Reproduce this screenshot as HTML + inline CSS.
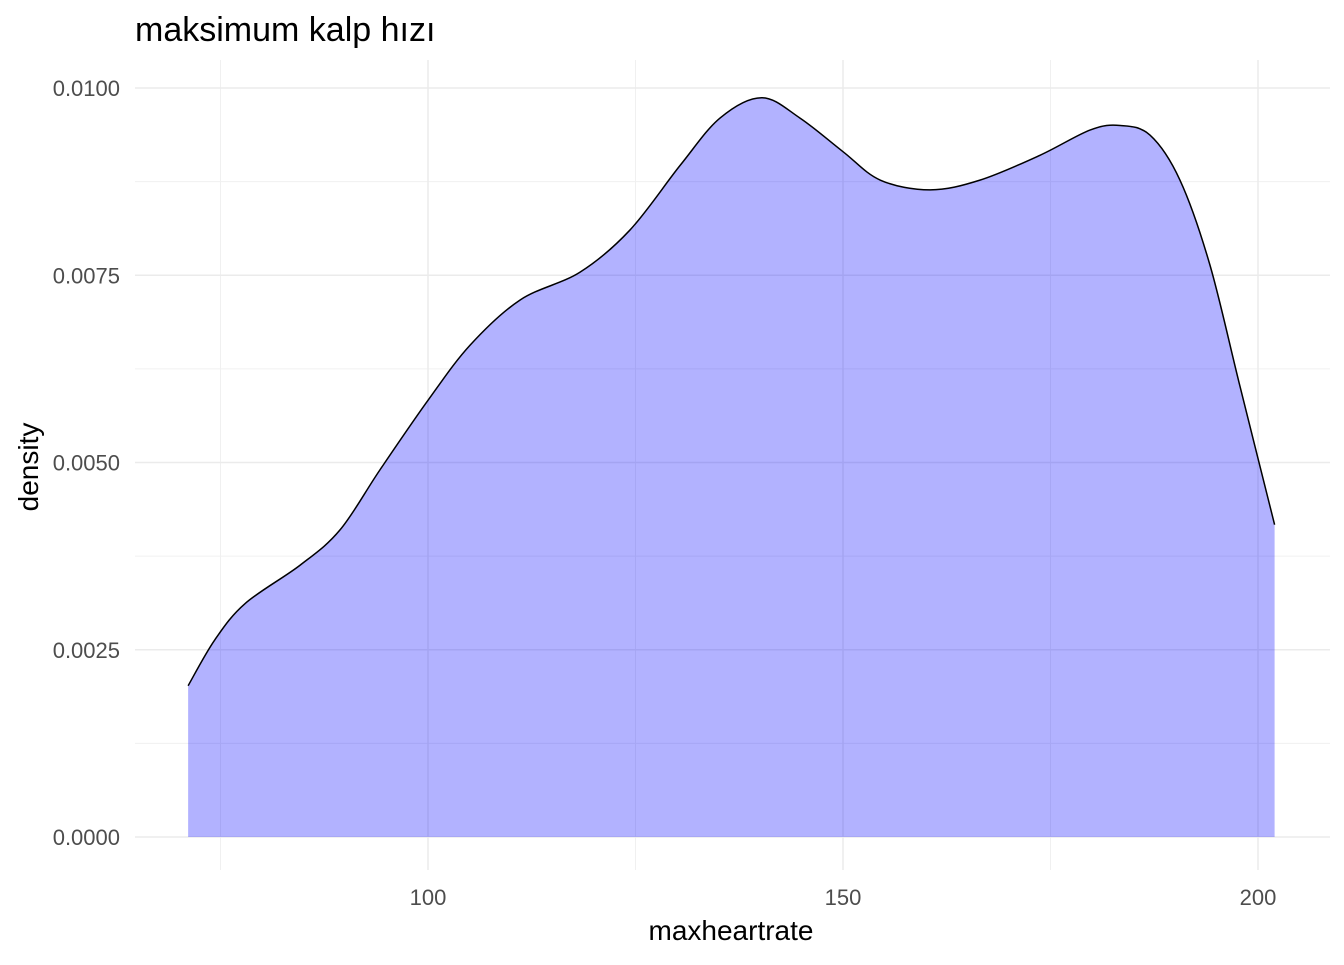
<!DOCTYPE html>
<html><head><meta charset="utf-8"><style>
body{margin:0;background:#fff;font-family:"Liberation Sans",sans-serif}
</style></head><body>
<svg id="chart" width="1344" height="960" xmlns="http://www.w3.org/2000/svg">
<text x="135" y="41" font-size="34" fill="#000" font-family="Liberation Sans, sans-serif">maksimum kalp hızı</text>
<g id="grid"></g>
<g id="marks"></g>
<g id="axes"></g>
<text x="731" y="940" font-size="28" text-anchor="middle" font-family="Liberation Sans, sans-serif">maxheartrate</text>
<text transform="translate(38,467) rotate(-90)" font-size="28" text-anchor="middle" font-family="Liberation Sans, sans-serif">density</text>
</svg>
<script>
const xValues=[71.1,74.3,78,84.6,89.4,94.2,100,105.1,111.1,118.3,124.3,130.4,135.2,140.2,144.8,150,154.5,160.5,166.5,173.7,179.8,183.4,187,190.6,194.2,197.8,202];
const densityValues=[0.00202,0.00263,0.00312,0.00363,0.0041,0.0049,0.00583,0.00657,0.00717,0.00754,0.0081,0.00897,0.0096,0.00987,0.0096,0.00915,0.00877,0.00864,0.00877,0.0091,0.00944,0.0095,0.00937,0.00877,0.00764,0.00603,0.00417];
const xTicks=[100,150,200];
const xMinor=[75,125,175];
const yTicks=[0,0.0025,0.005,0.0075,0.01];
const yTickLabels=["0.0000","0.0025","0.0050","0.0075","0.0100"];
const yMinor=[0.00125,0.00375,0.00625,0.00875];
const NS="http://www.w3.org/2000/svg";
const X=v=>428+(v-100)*8.3;
const Y=v=>837-v*74900;
const L=135,R=1330,T=60,B=870;
function mk(tag,attrs,parent){const e=document.createElementNS(NS,tag);for(const k in attrs)e.setAttribute(k,attrs[k]);document.getElementById(parent).appendChild(e);return e;}
xMinor.forEach(v=>{const e=mk('line',{x1:X(v),x2:X(v),y1:T,y2:B,stroke:'#f0f0f0','stroke-width':1},'grid');

});
yMinor.forEach(v=>{const e=mk('line',{x1:L,x2:R,y1:Y(v),y2:Y(v),stroke:'#f0f0f0','stroke-width':1},'grid');

});
xTicks.forEach(v=>{const e=mk('line',{x1:X(v),x2:X(v),y1:T,y2:B,stroke:'#ebebeb','stroke-width':1.5},'grid');


const t=mk('text',{x:X(v),y:905,'font-size':22,fill:'#4d4d4d','text-anchor':'middle'},'axes');t.textContent=v;

});
yTicks.forEach((v,i)=>{const e=mk('line',{x1:L,x2:R,y1:Y(v),y2:Y(v),stroke:'#ebebeb','stroke-width':1.5},'grid');


const t=mk('text',{x:120,y:Y(v)+8,'font-size':22,fill:'#4d4d4d','text-anchor':'end'},'axes');t.textContent=yTickLabels[i];

});
const pts=xValues.map((v,i)=>[X(v),Y(densityValues[i])]);
let d=`M${pts[0][0]},${pts[0][1]}`;
for(let i=0;i<pts.length-1;i++){const p0=pts[Math.max(0,i-1)],p1=pts[i],p2=pts[i+1],p3=pts[Math.min(pts.length-1,i+2)];
d+=` C${p1[0]+(p2[0]-p0[0])/6},${p1[1]+(p2[1]-p0[1])/6} ${p2[0]-(p3[0]-p1[0])/6},${p2[1]-(p3[1]-p1[1])/6} ${p2[0]},${p2[1]}`;}
const area=mk('path',{d:d+` L${pts[pts.length-1][0]},${Y(0)} L${pts[0][0]},${Y(0)} Z`,fill:'rgba(0,0,255,0.3)'},'marks');


const line=mk('path',{d:d,fill:'none',stroke:'#000','stroke-width':1.5},'marks');


</script>
</body></html>
